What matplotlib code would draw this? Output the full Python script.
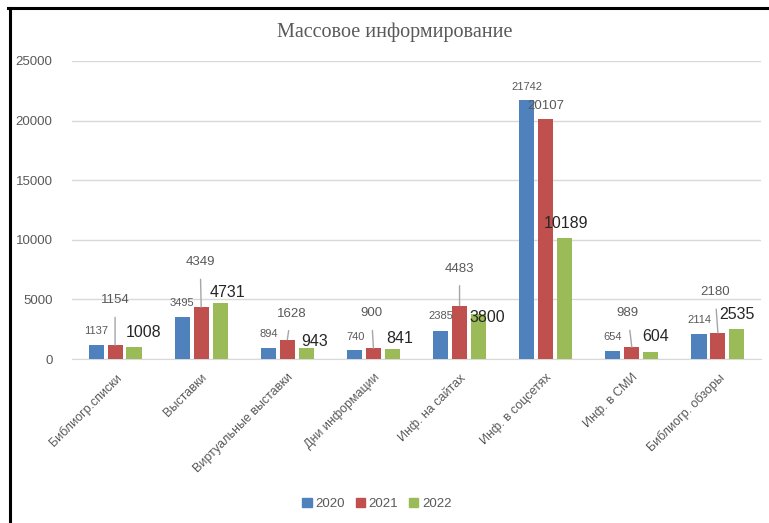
import matplotlib
matplotlib.use("Agg")
import matplotlib.pyplot as plt
from matplotlib.lines import Line2D
from matplotlib.patches import Patch
import numpy as np

plt.rcParams["font.family"] = ["Liberation Sans", "DejaVu Sans"]

categories = ["Библиогр.списки", "Выставки", "Виртуальные выставки", "Дни информации",
              "Инф. на сайтах", "Инф. в соцсетях", "Инф. в СМИ", "Библиогр. обзоры"]
years = ["2020", "2021", "2022"]
v2020 = [1137, 3495, 894, 740, 2385, 21742, 654, 2114]
v2021 = [1154, 4349, 1628, 900, 4483, 20107, 989, 2180]
v2022 = [1008, 4731, 943, 841, 3800, 10189, 604, 2535]

colors = ["#4F81BD", "#C0504D", "#9BBB59"]
GRAY = "#595959"

# label offsets from bar top (pixels), hand-placed like the original
off2020 = [(0, 14), (0, 14), (0, 14), (1, 13), (0, 15), (0, 13), (0, 14), (0, 14)]
off2021 = [(0, 45), (-1, 45), (4, 26), (-2, 35), (0, 37), (0, 13), (-4, 34), (-3, 41)]
off2022 = [(10, 14), (7, 10), (8, 6), (7, 10), (9, -4), (1, 14), (5, 15), (0, 14)]
leader = [True, True, True, True, True, False, True, True]

fig = plt.figure(figsize=(7.69, 5.23), dpi=100)
ax = fig.add_axes([72 / 769, 1 - 359 / 523, (761 - 72) / 769, (359 - 61) / 523])

x = np.arange(len(categories))
w = 0.175
step = 0.22
series = [v2020, v2021, v2022]
for i, (vals, c) in enumerate(zip(series, colors)):
    ax.bar(x + (i - 1) * step, vals, width=w, color=c, zorder=3, label=years[i])

for j in range(len(categories)):
    xb = x[j] - step
    ax.annotate(str(v2020[j]), (xb, v2020[j]), xytext=off2020[j], textcoords="offset pixels",
                ha="center", va="center", fontsize=8, color=GRAY, zorder=5)
    xb = x[j]
    ap = dict(arrowstyle="-", color="#A6A6A6", lw=1, shrinkA=6, shrinkB=0) if leader[j] else None
    ax.annotate(str(v2021[j]), (xb, v2021[j]), xytext=off2021[j], textcoords="offset pixels",
                ha="center", va="center", fontsize=9.5, color=GRAY, zorder=5, arrowprops=ap)
    xb = x[j] + step
    ax.annotate(str(v2022[j]), (xb, v2022[j]), xytext=off2022[j], textcoords="offset pixels",
                ha="center", va="center", fontsize=11.5, color="#262626", zorder=5)

ax.set_xlim(-0.5, len(categories) - 0.5)
ax.set_ylim(0, 25000)
ax.set_yticks(range(0, 25001, 5000))
ax.yaxis.grid(True, color="#D9D9D9", lw=1)
ax.set_axisbelow(True)
for s in ["top", "right", "left"]:
    ax.spines[s].set_visible(False)
ax.spines["bottom"].set_color("#D9D9D9")
ax.tick_params(axis="both", length=0, colors=GRAY, labelsize=9.5)
ax.tick_params(axis="y", pad=14)
ax.set_xticks(x)
ax.set_xticklabels(categories, rotation=45, ha="right", rotation_mode="anchor",
                   fontsize=9, color=GRAY)
ax.tick_params(axis="x", pad=9)

fig.text(395 / 769, 1 - 32 / 523, "Массовое информирование", ha="center", va="center",
         fontsize=14.5, color=GRAY, family=["Liberation Serif", "DejaVu Serif"])

handles = [Patch(color=c) for c in colors]
fig.legend(handles, years, loc="center", bbox_to_anchor=(377 / 769, 1 - 504 / 523), ncol=3,
           frameon=False, handlelength=0.7, handleheight=0.7, handletextpad=0.3,
           columnspacing=0.8, fontsize=9.5, labelcolor=GRAY)

fig.add_artist(Line2D([9.5 / 769, 9.5 / 769], [0, 1 - 8 / 523], color="black", lw=2.2,
                      transform=fig.transFigure))
fig.add_artist(Line2D([8 / 769, 1], [1 - 8 / 523, 1 - 8 / 523], color="black", lw=2.2,
                      transform=fig.transFigure))

fig.savefig("out.png", dpi=100)
